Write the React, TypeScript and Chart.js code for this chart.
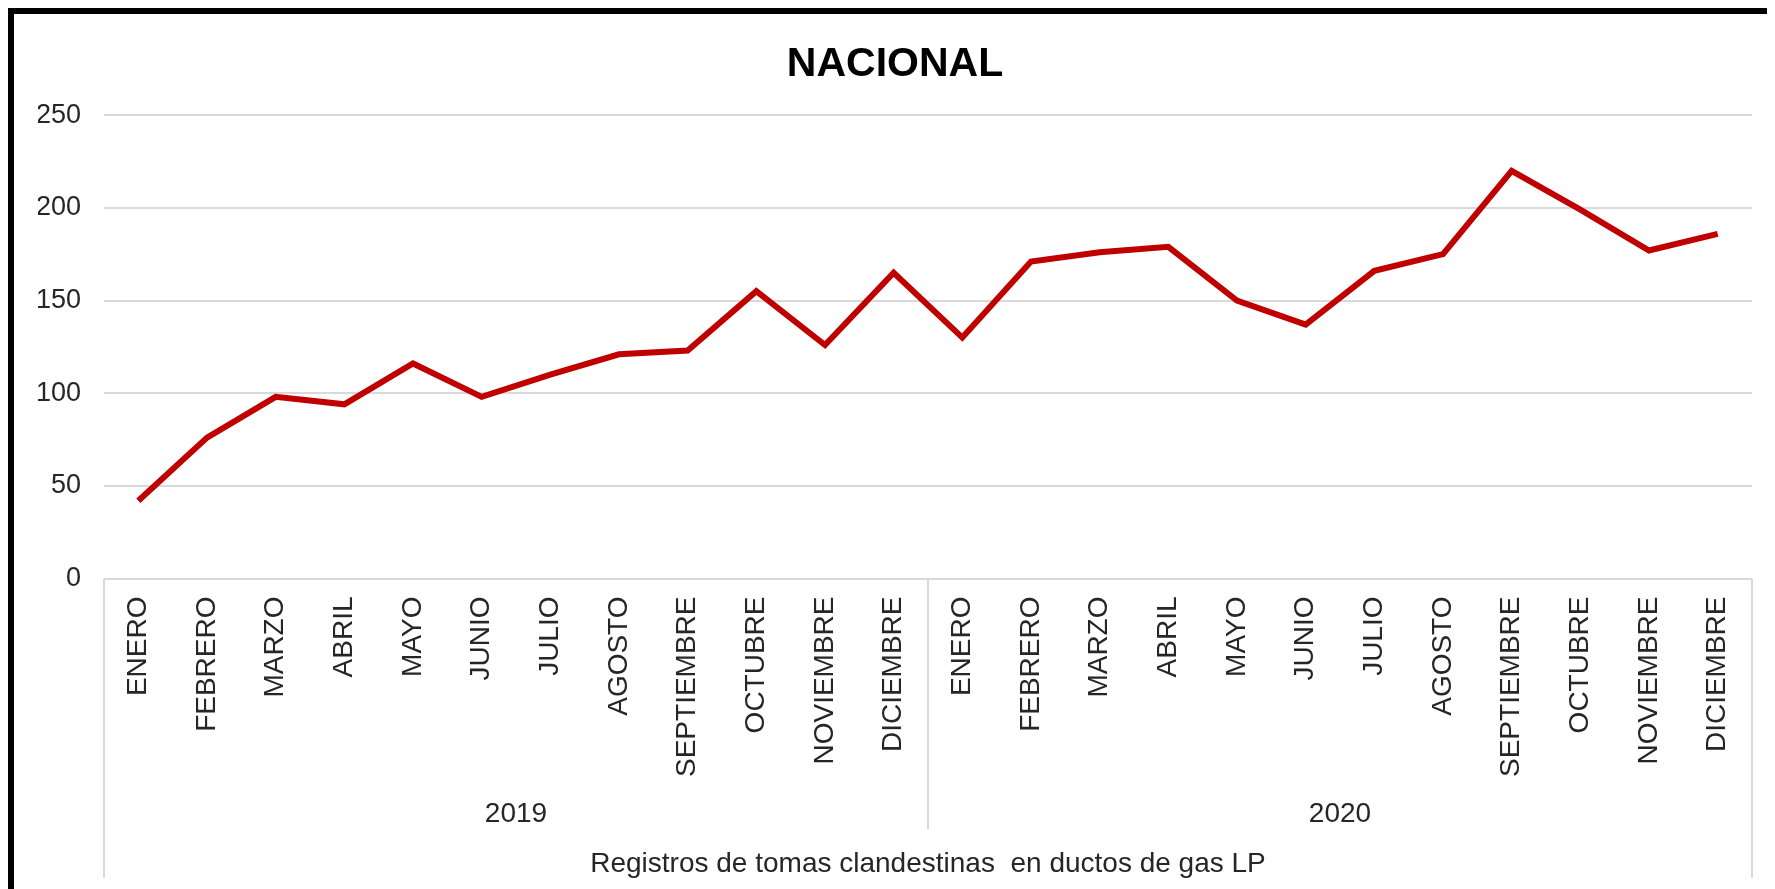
import React, { useEffect, useRef } from "react";
import { Chart, registerables } from "chart.js";

Chart.register(...registerables);

const months = [
  "ENERO", "FEBRERO", "MARZO", "ABRIL", "MAYO", "JUNIO",
  "JULIO", "AGOSTO", "SEPTIEMBRE", "OCTUBRE", "NOVIEMBRE", "DICIEMBRE",
];
const years = ["2019", "2020"];
const values2019 = [42, 76, 98, 94, 116, 98, 110, 121, 123, 155, 126, 165];
const values2020 = [130, 171, 176, 179, 150, 137, 166, 175, 220, 199, 177, 186];
const yMin = 0;
const yMax = 250;
const yStep = 50;
const chartTitle = "NACIONAL";
const axisTitle = "Registros de tomas clandestinas  en ductos de gas LP";

const FONT = "'Liberation Sans', Arial, Helvetica, sans-serif";
const TEXT = "#262626";
const GRID = "#d9d9d9";

const W = 1761;
const H = 875;

export default function App() {
  const ref = useRef<HTMLCanvasElement | null>(null);

  useEffect(() => {
    if (!ref.current) return;
    const labels = years.flatMap(() => months);
    const values = [...values2019, ...values2020];

    const groupPlugin = {
      id: "yearGroups",
      afterDraw(chart: any) {
        const x = chart.scales.x;
        const ctx = chart.ctx;
        const top = chart.chartArea.bottom;
        const n = months.length;
        ctx.save();
        ctx.strokeStyle = GRID;
        ctx.lineWidth = 2;
        [x.left, x.right].forEach((px: number) => {
          ctx.beginPath();
          ctx.moveTo(px, top);
          ctx.lineTo(px, chart.height - 11);
          ctx.stroke();
        });
        for (let g = 1; g < years.length; g++) {
          const sep = (x.getPixelForValue(g * n - 1) + x.getPixelForValue(g * n)) / 2;
          ctx.beginPath();
          ctx.moveTo(sep, top);
          ctx.lineTo(sep, chart.height - 60);
          ctx.stroke();
        }
        ctx.fillStyle = TEXT;
        ctx.font = `28px ${FONT}`;
        ctx.textAlign = "center";
        ctx.textBaseline = "middle";
        years.forEach((yr, g) => {
          const cx = (x.getPixelForValue(g * n) + x.getPixelForValue(g * n + n - 1)) / 2;
          ctx.fillText(yr, cx, chart.height - 75);
        });
        ctx.restore();
      },
    };

    const chart = new Chart(ref.current, {
      type: "line",
      data: {
        labels,
        datasets: [
          {
            data: values,
            borderColor: "#c00000",
            backgroundColor: "#c00000",
            borderWidth: 6,
            pointRadius: 0,
            tension: 0,
            fill: false,
            borderJoinStyle: "miter",
          },
        ],
      },
      options: {
        animation: false,
        responsive: false,
        devicePixelRatio: 1,
        layout: { padding: { left: 24, right: 23, top: 0, bottom: 0 } },
        plugins: {
          legend: { display: false },
          tooltip: { enabled: false },
          title: {
            display: true,
            text: chartTitle,
            color: "#000",
            font: { family: FONT, size: 41, weight: "bold" },
            padding: { top: 26, bottom: 26 },
          },
        },
        scales: {
          x: {
            type: "category",
            offset: true,
            grid: { display: false, drawTicks: false, offset: true },
            border: { display: false },
            ticks: {
              autoSkip: false,
              minRotation: 90,
              maxRotation: 90,
              padding: 18,
              color: TEXT,
              font: { family: FONT, size: 28 },
            },
            title: {
              display: true,
              text: axisTitle,
              color: TEXT,
              font: { family: FONT, size: 28 },
              padding: { top: 4, bottom: 8 },
            },
            afterFit(scale: any) {
              scale.height = 310.5;
            },
          },
          y: {
            min: yMin,
            max: yMax,
            ticks: {
              stepSize: yStep,
              padding: 23,
              color: TEXT,
              font: { family: FONT, size: 27 },
            },
            grid: { color: GRID, lineWidth: 2, drawTicks: false },
            border: { display: false },
            afterFit(scale: any) {
              scale.width = 66;
            },
          },
        },
      },
      plugins: [groupPlugin],
    } as any);

    return () => chart.destroy();
  }, []);

  return (
    <div
      style={{
        borderTop: "6px solid #000",
        borderLeft: "6px solid #000",
        width: W,
        height: H,
        background: "#fff",
      }}
    >
      <canvas ref={ref} width={W} height={H} style={{ display: "block" }} />
    </div>
  );
}
